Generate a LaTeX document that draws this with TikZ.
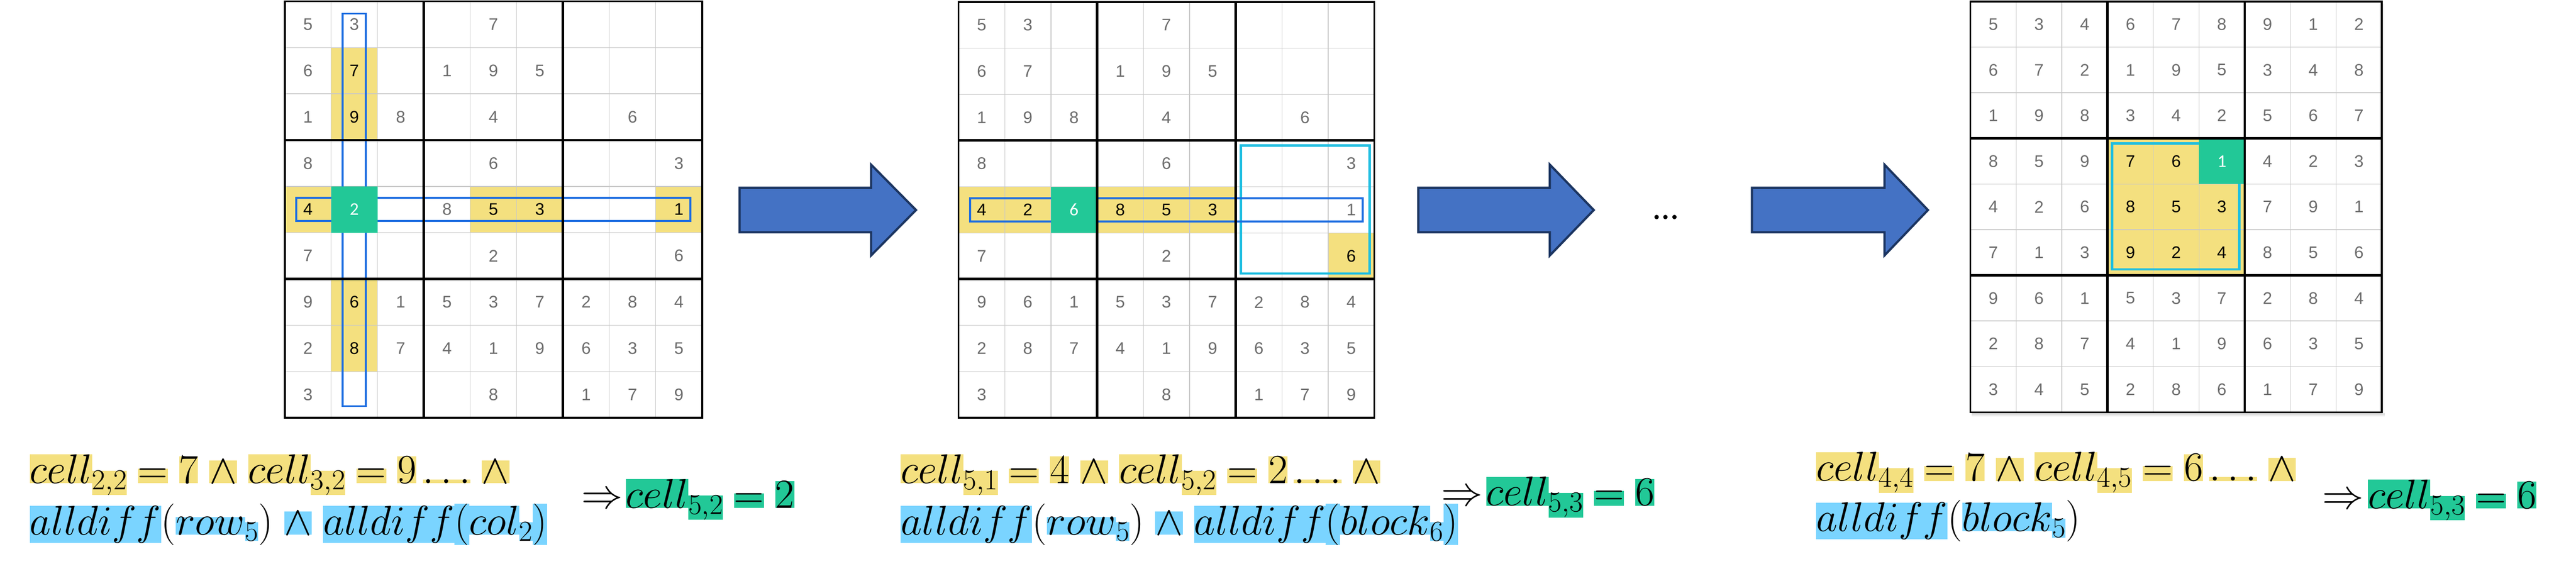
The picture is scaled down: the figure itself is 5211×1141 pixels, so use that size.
\RequirePackage{fix-cm}
\documentclass[tikz,border=0pt]{standalone}
\usepackage{fontspec}
\newfontfamily\arialf{Liberation Sans}
\newfontfamily\calif{Carlito}
\definecolor{hly}{HTML}{F4E07F}
\definecolor{hlb}{HTML}{7AD4FF}
\definecolor{hlg}{HTML}{22C897}
\definecolor{gridgray}{HTML}{C8C8C8}
\definecolor{diggray}{HTML}{6C6C6C}
\definecolor{outblue}{HTML}{1E6EE1}
\definecolor{outcyan}{HTML}{1EBEE1}
\definecolor{arrfill}{HTML}{4472C4}
\definecolor{arrdraw}{HTML}{1B3460}
\newcommand{\HL}[2]{{\setlength{\fboxsep}{0pt}\colorbox{#1}{$#2$}}}
\newcommand{\HY}[1]{\HL{hly}{#1}}
\newcommand{\HB}[1]{\HL{hlb}{#1}}
\newcommand{\HG}[1]{\HL{hlg}{#1}}
\newcommand{\SY}[1]{\raisebox{-0.15em}{\HL{hly}{\scriptstyle #1}}}
\newcommand{\SB}[1]{\raisebox{-0.15em}{\HL{hlb}{\scriptstyle #1}}}
\newcommand{\SG}[1]{\raisebox{-0.15em}{\HL{hlg}{\scriptstyle #1}}}
\newcommand{\G}{\hspace{0.27em}}
\newcommand{\Gs}{\hspace{0.15em}}
\begin{document}
\begin{tikzpicture}[x=1pt,y=-1pt,
  thinl/.style={draw=gridgray, line width=1.4pt},
  thickl/.style={draw=black, line width=5pt},
  outerl/.style={draw=black, line width=3.8pt},
  dig/.style={font=\arialf\fontsize{34}{34}\selectfont, text=diggray, inner sep=0pt},
  digk/.style={dig, text=black},
  digw/.style={font=\calif\fontsize{36}{36}\selectfont, text=white, inner sep=0pt},
  yc/.style={fill=hly},
  gc/.style={fill=hlg},
  rowbox/.style={draw=outblue, line width=3.8pt},
  blockbox/.style={draw=outcyan, line width=5pt},
  blockarrow/.style={fill=arrfill, draw=arrdraw, line width=4.5pt, line join=miter},
  fml/.style={font=\fontsize{84}{100}\selectfont, inner sep=0pt, anchor=base west},
]
\useasboundingbox[fill=white] (0,0) rectangle (5211,1141);

% ---------------- Grid 1 ----------------
\begin{scope}[shift={(576,2.5)}, x=93.8pt, y=-93.65pt]
  \fill[yc] (1,1) rectangle (2,3);
  \fill[yc] (0,4) rectangle (1,5);
  \fill[yc] (4,4) rectangle (6,5);
  \fill[yc] (8,4) rectangle (9,5);
  \fill[yc] (1,6) rectangle (2,8);
  \foreach \i in {0,...,9} {\draw[thinl] (\i,0)--(\i,9); \draw[thinl] (0,\i)--(9,\i);}
  \draw[rowbox] (1.25,0.27) rectangle (1.75,8.75);
  \draw[rowbox] (0.25,4.25) rectangle (8.75,4.75);
  \fill[gc] (1,4) rectangle (2,5);
  \foreach \i in {3,6} {\draw[thickl] (\i,0)--(\i,9); \draw[thickl] (0,\i)--(9,\i);}
  \draw[outerl] (0,0) rectangle (9,9);
  \foreach \row [count=\r] in {{5,3,0,0,7,0,0,0,0},{6,0,0,1,9,5,0,0,0},{1,0,8,0,4,0,0,6,0},
      {8,0,0,0,6,0,0,0,3},{0,0,0,8,0,0,0,0,0},{7,0,0,0,2,0,0,0,6},
      {9,0,1,5,3,7,2,8,4},{2,0,7,4,1,9,6,3,5},{3,0,0,0,8,0,1,7,9}} {
    \foreach \d [count=\c] in \row {
      \ifnum\d>0 \node[dig] (g1-\r-\c) at (\c-0.5,\r-0.5) {\d}; \fi
    }
  }
  \node[digk] (g1-2-2) at (1.5,1.5) {7};
  \node[digk] (g1-3-2) at (1.5,2.5) {9};
  \node[digk] (g1-5-1) at (0.5,4.5) {4};
  \node[digk] (g1-5-5) at (4.5,4.5) {5};
  \node[digk] (g1-5-6) at (5.5,4.5) {3};
  \node[digk] (g1-5-9) at (8.5,4.5) {1};
  \node[digk] (g1-7-2) at (1.5,6.5) {6};
  \node[digk] (g1-8-2) at (1.5,7.5) {8};
  \node[digw] (g1-5-2) at (1.5,4.5) {2};
\end{scope}

% ---------------- Grid 2 ----------------
\begin{scope}[shift={(1939,4)}, x=93.45pt, y=-93.45pt]
  \fill[yc] (0,4) rectangle (2,5);
  \fill[yc] (3,4) rectangle (6,5);
  \fill[yc] (8,5) rectangle (9,6);
  \foreach \i in {0,...,9} {\draw[thinl] (\i,0)--(\i,9); \draw[thinl] (0,\i)--(9,\i);}
  \draw[blockbox] (6.11,3.11) rectangle (8.9,5.88);
  \draw[rowbox] (0.25,4.25) rectangle (8.75,4.75);
  \fill[gc] (2,4) rectangle (3,5);
  \foreach \i in {3,6} {\draw[thickl] (\i,0)--(\i,9); \draw[thickl] (0,\i)--(9,\i);}
  \draw[outerl] (0,0) rectangle (9,9);
  \foreach \row [count=\r] in {{5,3,0,0,7,0,0,0,0},{6,7,0,1,9,5,0,0,0},{1,9,8,0,4,0,0,6,0},
      {8,0,0,0,6,0,0,0,3},{0,0,0,0,0,0,0,0,1},{7,0,0,0,2,0,0,0,0},
      {9,6,1,5,3,7,2,8,4},{2,8,7,4,1,9,6,3,5},{3,0,0,0,8,0,1,7,9}} {
    \foreach \d [count=\c] in \row {
      \ifnum\d>0 \node[dig] (g2-\r-\c) at (\c-0.5,\r-0.5) {\d}; \fi
    }
  }
  \node[digk] (g2-5-1) at (0.5,4.5) {4};
  \node[digk] (g2-5-2) at (1.5,4.5) {2};
  \node[digk] (g2-5-4) at (3.5,4.5) {8};
  \node[digk] (g2-5-5) at (4.5,4.5) {5};
  \node[digk] (g2-5-6) at (5.5,4.5) {3};
  \node[digk] (g2-6-9) at (8.5,5.5) {6};
  \node[digw] (g2-5-3) at (2.5,4.5) {6};
\end{scope}

% ---------------- Grid 3 ----------------
\begin{scope}[shift={(3986,3)}, x=92.45pt, y=-92.35pt]
  \shade[top color=black!22, bottom color=white] (0.03,9) rectangle (9.06,9.1);
  \shade[left color=black!15, right color=white] (9,0.05) rectangle (9.06,9.02);
  \fill[yc] (3,3) rectangle (6,6);
  \foreach \i in {0,...,9} {\draw[thinl] (\i,0)--(\i,9); \draw[thinl] (0,\i)--(9,\i);}
  \draw[blockbox] (3.1,3.11) rectangle (5.88,5.87);
  \fill[gc] (5,3) rectangle (6,4);
  \foreach \i in {3,6} {\draw[thickl] (\i,0)--(\i,9); \draw[thickl] (0,\i)--(9,\i);}
  \draw[outerl] (0,0) rectangle (9,9);
  \foreach \row [count=\r] in {{5,3,4,6,7,8,9,1,2},{6,7,2,1,9,5,3,4,8},{1,9,8,3,4,2,5,6,7},
      {8,5,9,0,0,0,4,2,3},{4,2,6,0,0,0,7,9,1},{7,1,3,0,0,0,8,5,6},
      {9,6,1,5,3,7,2,8,4},{2,8,7,4,1,9,6,3,5},{3,4,5,2,8,6,1,7,9}} {
    \foreach \d [count=\c] in \row {
      \ifnum\d>0 \node[dig] (g3-\r-\c) at (\c-0.5,\r-0.5) {\d}; \fi
    }
  }
  \node[digk] (g3-4-4) at (3.5,3.5) {7};
  \node[digk] (g3-4-5) at (4.5,3.5) {6};
  \node[digk] (g3-5-4) at (3.5,4.5) {8};
  \node[digk] (g3-5-5) at (4.5,4.5) {5};
  \node[digk] (g3-5-6) at (5.5,4.5) {3};
  \node[digk] (g3-6-4) at (3.5,5.5) {9};
  \node[digk] (g3-6-5) at (4.5,5.5) {2};
  \node[digk] (g3-6-6) at (5.5,5.5) {4};
  \node[digw] (g3-4-6) at (5.5,3.5) {1};
\end{scope}

% ---------------- Arrows ----------------
\draw[blockarrow] (1496,380)--(1762,380)--(1762,333)--(1853,425)--(1762,517)--(1762,470)--(1496,470)--cycle;
\draw[blockarrow] (2869,380)--(3135,380)--(3135,333)--(3224,425)--(3135,517)--(3135,470)--(2869,470)--cycle;
\draw[blockarrow] (3544,380)--(3812,380)--(3812,333)--(3900,425)--(3812,517)--(3812,470)--(3544,470)--cycle;
\node[font=\calif\fontsize{72}{72}\selectfont, inner sep=0pt, anchor=base] (dots) at (3370,443) {…};

% ---------------- Formulas ----------------
\node[fml] (f1a) at (60,978) {\HY{cell}\SY{2,2}\G\HY{=}\G\HY{7}\G\HY{\wedge}\G\HY{cell}\SY{3,2}\G\HY{=}\G\HY{9}\Gs\HY{\ldots}\G\HY{\wedge}};
\node[fml] (f1b) at (60,1082) {\HB{alldiff}$($\HB{row}\SB{5}$)$\G\HB{\wedge}\G\HB{alldiff}\HB{(}\HB{col}\SB{2}\HB{)}};
\node[fml] (f1c) at (1176,1028) {$\Rightarrow$};
\node[fml] (f1d) at (1266,1028) {\HG{cell}\SG{5,2}\G\HG{=}\G\HG{2}};

\node[fml] (f2a) at (1822,978) {\HY{cell}\SY{5,1}\G\HY{=}\G\HY{4}\G\HY{\wedge}\G\HY{cell}\SY{5,2}\G\HY{=}\G\HY{2}\Gs\HY{\ldots}\G\HY{\wedge}};
\node[fml] (f2b) at (1822,1082) {\HB{alldiff}$($\HB{row}\SB{5}$)$\G\HB{\wedge}\G\HB{alldiff}\HB{(}\HB{block}\SB{6}\HB{)}};
\node[fml] (f2c) at (2915,1023) {$\Rightarrow$};
\node[fml] (f2d) at (3006,1023) {\HG{cell}\SG{5,3}\G\HG{=}\G\HG{6}};

\node[fml] (f3a) at (3674,973) {\HY{cell}\SY{4,4}\G\HY{=}\G\HY{7}\G\HY{\wedge}\G\HY{cell}\SY{4,5}\G\HY{=}\G\HY{6}\Gs\HY{\ldots}\G\HY{\wedge}};
\node[fml] (f3b) at (3674,1075) {\HB{alldiff}$($\HB{block}\SB{5}$)$};
\node[fml] (f3c) at (4697,1029) {$\Rightarrow$};
\node[fml] (f3d) at (4790,1029) {\HG{cell}\SG{5,3}\G\HG{=}\G\HG{6}};
\end{tikzpicture}
\end{document}
